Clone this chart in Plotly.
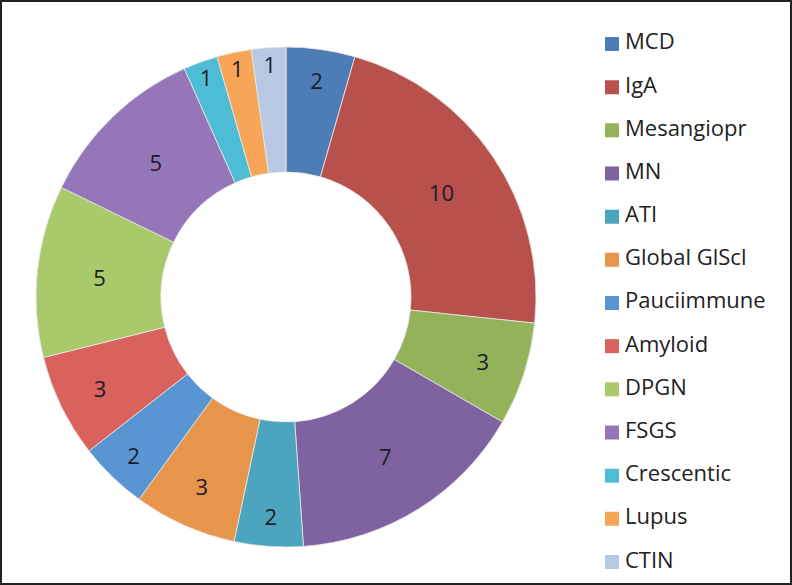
""" Donut chart of biopsy diagnoses
"""

import plotly.graph_objects as go

labels = ['MCD', 'IgA', 'Mesangiopr', 'MN', 'ATI', 'Global GlScl', 'Pauciimmune',
          'Amyloid', 'DPGN', 'FSGS', 'Crescentic', 'Lupus', 'CTIN']
counts = [2, 10, 3, 7, 2, 3, 2, 3, 5, 5, 1, 1, 1]
colors = ['#4E7DB5', '#B8504B', '#93B25A', '#7F62A0', '#4BA5BE', '#E6954A', '#5A95D3',
          '#D9625D', '#A8CA6A', '#9576B8', '#4FBCD6', '#F7A556', '#B7C8E2']

# Create the figure
fig = go.Figure()
fig.add_trace(go.Pie(labels=labels, values=counts, hole=0.5, sort=False,
                     direction='clockwise', rotation=0,
                     marker=dict(colors=colors, line=dict(color='#E8E8E8', width=0.8)),
                     textinfo='value', textposition='inside',
                     insidetextorientation='horizontal',
                     textfont=dict(family='Open Sans', size=22, color='#1C1C2A'),
                     domain=dict(x=[36 / 792, 536 / 792], y=[38 / 585, 538 / 585]),
                     showlegend=False))

# Legend drawn as a marker column plus a text column on their own axes
fig.add_trace(go.Scatter(x=[12] * len(labels), y=list(range(len(labels))),
                         mode='markers',
                         marker=dict(symbol='square', size=14, color=colors),
                         hoverinfo='skip', showlegend=False))
fig.add_trace(go.Scatter(x=[25] * len(labels), y=list(range(len(labels))),
                         mode='text', text=labels, textposition='middle right',
                         textfont=dict(family='Open Sans', size=22, color='#222222'),
                         hoverinfo='skip', showlegend=False))

# Configure the figure
fig.update_layout(width=792, height=585, margin=dict(l=0, r=0, t=0, b=0),
                  paper_bgcolor='white', plot_bgcolor='white',
                  xaxis=dict(domain=[600 / 792, 1], range=[0, 192], visible=False,
                             fixedrange=True),
                  yaxis=dict(domain=[1.4 / 585, 562.6 / 585], range=[12.5, -0.5],
                             visible=False, fixedrange=True),
                  shapes=[dict(type='rect', xref='paper', yref='paper', x0=0, y0=0,
                               x1=1, y1=1, line=dict(color='#222222', width=4))])

# Drop the page's default body margin so the figure sits flush in the window
fig.write_html('out.html', config={'displayModeBar': False},
               post_script="document.body.style.margin='0';")
